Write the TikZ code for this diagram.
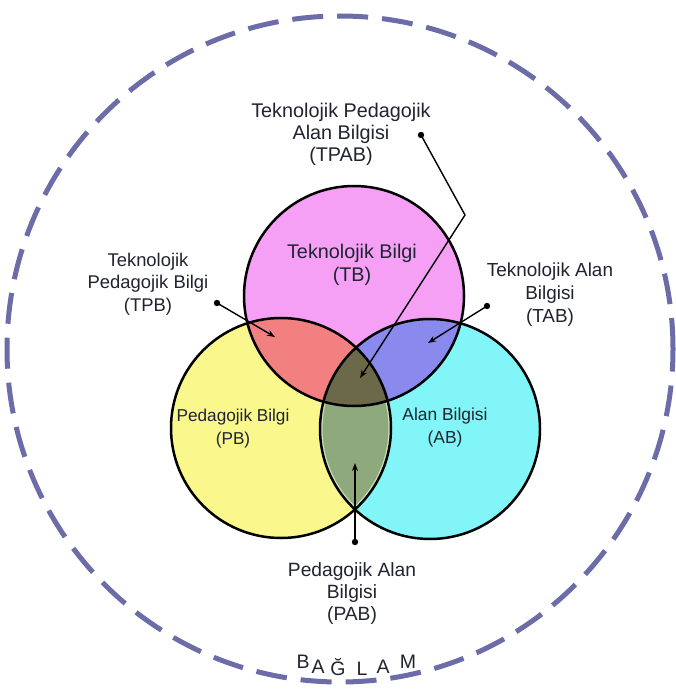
\documentclass[tikz,border=0pt]{standalone}
\usepackage{fontspec}
\setmainfont{Liberation Sans}
\usetikzlibrary{arrows.meta}
\definecolor{tbcol}{RGB}{245,160,245}
\definecolor{pbcol}{RGB}{250,248,140}
\definecolor{abcol}{RGB}{130,245,248}
\definecolor{tpbcol}{RGB}{242,128,128}
\definecolor{tabcol}{RGB}{138,138,238}
\definecolor{tpabcol}{RGB}{108,104,74}
\definecolor{pabcol}{RGB}{142,170,125}
\definecolor{pabedge}{RGB}{205,228,190}
\definecolor{ctxcol}{RGB}{108,108,168}
\definecolor{txtcol}{RGB}{32,36,48}
\begin{document}
\begin{tikzpicture}[x=1pt,y=-1pt,
  lbl/.style={align=center, text=txtcol, font=\fontsize{19}{22}\selectfont, inner sep=0pt},
  ring/.style={draw=black, line width=2.5pt},
  pointer/.style={draw=black, line width=1.4pt, line join=round, -{Stealth[length=8pt,width=6pt]}},
  ctxletter/.style={font=\fontsize{19.5}{19.5}\selectfont, text=txtcol, inner sep=0pt, anchor=base}]
\useasboundingbox (0,0) rectangle (675,693);
\fill[white] (0,0) rectangle (675,693);
\coordinate (cT) at (354,296);
\coordinate (cP) at (281,428);
\coordinate (cA) at (430,429);
\def\R{110pt}
% base fills
\fill[tbcol] (cT) circle (\R);
\fill[pbcol] (cP) circle (\R);
\fill[abcol] (cA) circle (\R);
% pairwise
\begin{scope}
  \clip (cT) circle (\R);
  \fill[tpbcol] (cP) circle (\R);
  \fill[tabcol] (cA) circle (\R);
\end{scope}
\begin{scope}
  \clip (cP) circle (\R);
  \fill[pabcol] (cA) circle (\R);
  \clip (cA) circle (\R);
  \draw[pabedge, line width=5pt] (cP) circle (\R);
  \draw[pabedge, line width=5pt] (cA) circle (\R);
\end{scope}
% triple
\begin{scope}
  \clip (cT) circle (\R);
  \clip (cP) circle (\R);
  \fill[tpabcol] (cA) circle (\R);
\end{scope}
% outlines
\draw[ring] (cT) circle (\R);
\draw[ring] (cP) circle (\R);
\draw[ring] (cA) circle (\R);
% context ring
\draw[ctxcol, line width=5pt, dash pattern=on 31pt off 14pt] (340,349) circle (333pt);
% labels
\node[lbl, font=\fontsize{19.8}{22}\selectfont] (tpab) at (341,134) {Teknolojik Pedagojik\\Alan Bilgisi\\(TPAB)};
\node[lbl, font=\fontsize{19.8}{23}\selectfont] (tb) at (352,265) {Teknolojik Bilgi\\(TB)};
\node[lbl, font=\fontsize{18.4}{22.5}\selectfont] (tpb) at (148,284) {Teknolojik\\Pedagojik Bilgi\\(TPB)};
\node[lbl, font=\fontsize{18.9}{23}\selectfont] (tab) at (550,295) {Teknolojik Alan\\Bilgisi\\(TAB)};
\node[lbl, font=\fontsize{17.2}{23}\selectfont] (pb) at (233,429) {Pedagojik Bilgi\\(PB)};
\node[lbl, font=\fontsize{17.4}{23}\selectfont] (ab) at (445,427) {Alan Bilgisi\\(AB)};
\node[lbl, font=\fontsize{19.2}{22}\selectfont] (pab) at (352,594) {Pedagojik Alan\\Bilgisi\\(PAB)};
% connectors
\coordinate (dTPAB) at (421,135);
\coordinate (kTPAB) at (465,215);
\coordinate (tTPAB) at (360,378);
\coordinate (dTPB) at (217,303);
\coordinate (tTPB) at (275,337);
\coordinate (dTAB) at (487,306);
\coordinate (tTAB) at (428,343);
\coordinate (dPAB) at (355,542);
\coordinate (tPAB) at (355,463);
\draw[pointer] (dTPAB) -- (kTPAB) -- (tTPAB);
\draw[pointer] (dTPB) -- (tTPB);
\draw[pointer] (dTAB) -- (tTAB);
\draw[pointer] (dPAB) -- (tPAB);
\fill (dTPAB) circle (3.2pt);
\fill (dTPB) circle (3.2pt);
\fill (dTAB) circle (3.2pt);
\fill (dPAB) circle (3.2pt);
% BAGLAM
\node[ctxletter] (l1) at (303,668) {B};
\node[ctxletter] (l2) at (318,673) {A};
\node[ctxletter] (l3) at (338,675) {Ğ};
\node[ctxletter] (l4) at (362,675) {L};
\node[ctxletter] (l5) at (383,673) {A};
\node[ctxletter] (l6) at (408,668) {M};
\end{tikzpicture}
\end{document}
